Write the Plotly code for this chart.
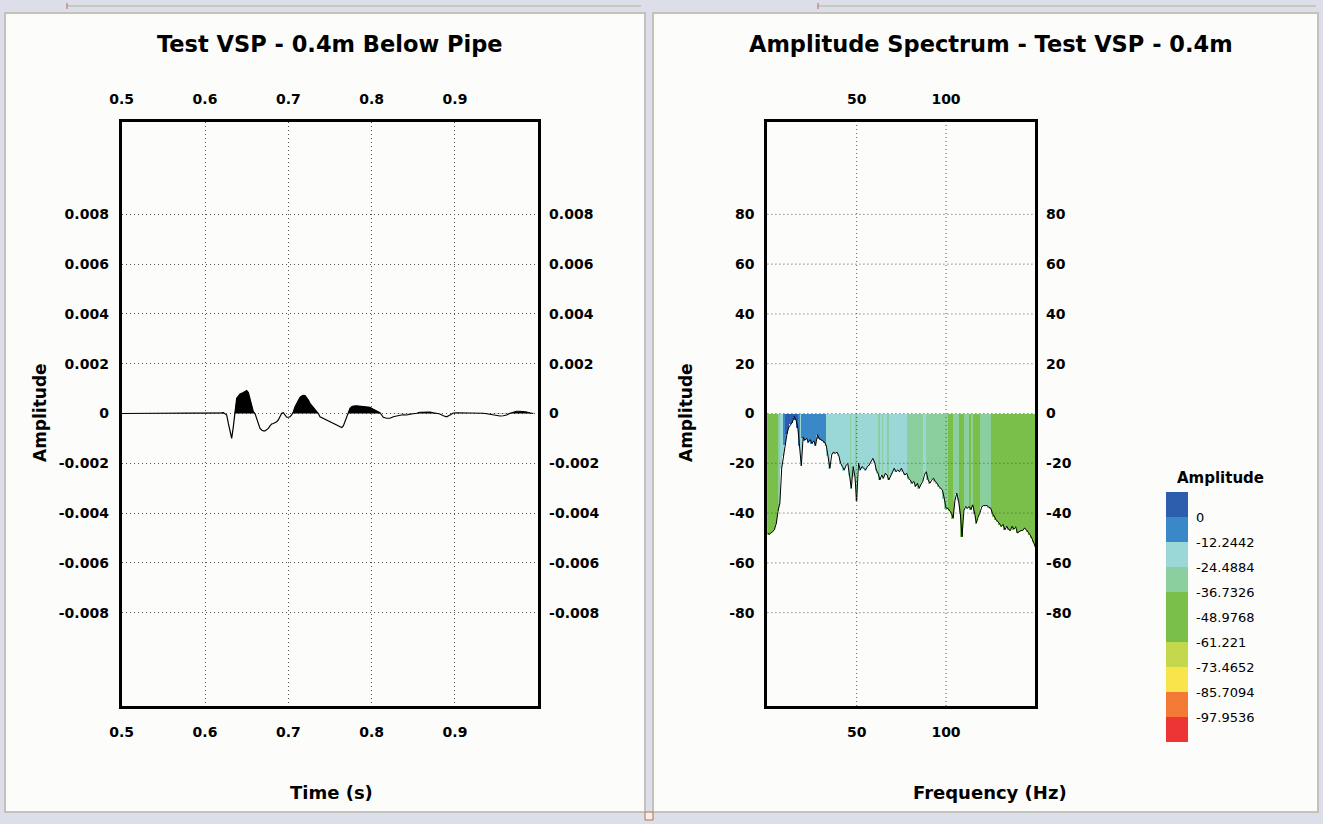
import plotly.graph_objects as go

# ---------------- data ----------------
wave_time = [
    0.500, 0.594, 0.618, 0.620, 0.622, 0.624, 0.626, 0.628, 0.630, 0.632,
    0.634, 0.636, 0.638, 0.640, 0.642, 0.646, 0.650, 0.652, 0.654, 0.656,
    0.658, 0.660, 0.662, 0.664, 0.666, 0.668, 0.670, 0.672, 0.674, 0.676,
    0.678, 0.680, 0.682, 0.686, 0.688, 0.690, 0.692, 0.694, 0.696, 0.698,
    0.700, 0.702, 0.704, 0.706, 0.708, 0.710, 0.712, 0.714, 0.716, 0.718,
    0.720, 0.722, 0.724, 0.726, 0.730, 0.734, 0.736, 0.738, 0.742, 0.746,
    0.750, 0.754, 0.758, 0.762, 0.764, 0.766, 0.768, 0.770, 0.772, 0.774,
    0.776, 0.778, 0.782, 0.786, 0.790, 0.794, 0.798, 0.802, 0.806, 0.810,
    0.812, 0.814, 0.818, 0.822, 0.826, 0.830, 0.834, 0.838, 0.842, 0.846,
    0.850, 0.854, 0.858, 0.862, 0.866, 0.870, 0.874, 0.878, 0.882, 0.886,
    0.890, 0.894, 0.898, 0.902, 0.906, 0.910, 0.914, 0.918, 0.922, 0.926,
    0.930, 0.934, 0.938, 0.942, 0.946, 0.950, 0.954, 0.958, 0.962, 0.966,
    0.970, 0.974, 0.978, 0.982, 0.986, 0.990, 0.994,
]
# amplitude in units of 1e-3
wave_amp_milli = [
    0.00, 0.00, 0.00, 0.03, 0.04, 0.00, -0.06, -0.40, -0.73, -1.00,
    -0.53, 0.14, 0.61, 0.70, 0.78, 0.84, 0.92, 0.84, 0.54, 0.27,
    0.07, 0.00, -0.19, -0.40, -0.60, -0.66, -0.70, -0.70, -0.66, -0.60,
    -0.50, -0.42, -0.40, -0.33, -0.26, -0.13, 0.01, 0.03, -0.06, -0.15,
    -0.15, -0.13, -0.06, 0.07, 0.27, 0.41, 0.54, 0.65, 0.70, 0.73,
    0.72, 0.65, 0.54, 0.41, 0.25, 0.07, 0.00, -0.13, -0.19, -0.26,
    -0.33, -0.40, -0.46, -0.53, -0.56, -0.50, -0.33, -0.13, 0.07, 0.21,
    0.27, 0.30, 0.31, 0.30, 0.30, 0.27, 0.25, 0.17, 0.11, 0.03,
    -0.06, -0.15, -0.19, -0.19, -0.13, -0.09, -0.07, -0.05, -0.06, -0.03,
    -0.02, 0.01, 0.05, 0.06, 0.07, 0.06, 0.03, 0.01, -0.02, -0.09,
    -0.13, -0.06, 0.02, 0.03, 0.03, 0.03, 0.02, 0.02, 0.03, 0.03,
    0.02, 0.01, -0.01, -0.03, -0.06, -0.09, -0.10, -0.09, -0.06, 0.01,
    0.06, 0.09, 0.09, 0.09, 0.06, 0.02, 0.01,
]

spec_freq = list(range(0, 151))
spec_db = [
    -48, -48.5, -48, -47.5, -46.5, -44, -39, -36, -22, -17,
    -12.5, -8, -5.5, -4.2, -3.5, -1.2, -2.5, -5.5, -13, -21,
    -9.5, -10.7, -10, -11.5, -10.5, -12, -11, -12.8, -8.5, -10,
    -10.5, -11, -11.5, -13, -17, -22, -16.6, -15.5, -16, -15.5,
    -17, -20, -21.3, -22.7, -21, -20, -25, -30, -21.3, -25.3,
    -35, -20, -22.7, -21.3, -22, -22.7, -21.3, -20.7, -19.4, -18,
    -19.5, -22.7, -24, -26.7, -24.7, -26, -24, -24.7, -26.7, -25.3,
    -24, -22, -23.4, -22.7, -23.4, -22, -23.4, -24.7, -24, -26,
    -26.7, -28, -27.3, -29.3, -28, -30, -28.5, -27.3, -24.5, -23.4,
    -26.7, -28, -26.7, -26, -27.3, -28, -29.3, -30, -30.7, -34,
    -38, -38, -39, -40, -42, -35, -32, -35, -40, -49.5,
    -39, -37.4, -38, -37.4, -38.5, -36.7, -40, -44, -41.5, -40,
    -37.5, -37, -37, -37, -37.6, -38, -40, -41.5, -42.6, -43.4,
    -44.5, -45.3, -44.6, -46.7, -45.3, -46.5, -47, -45.3, -46.5, -45.5,
    -48, -47.5, -47, -47, -46, -46.7, -47.5, -48.7, -50, -51.5,
    -53.5,
]

legend_levels = [0, -12.2442, -24.4884, -36.7326, -48.9768,
                 -61.221, -73.4652, -85.7094, -97.9536]
legend_labels = ["0", "-12.2442", "-24.4884", "-36.7326", "-48.9768",
                 "-61.221", "-73.4652", "-85.7094", "-97.9536"]
# band colours from bottom (most negative) to top
band_colors = ["#ee3535", "#f37a34", "#f8e44b", "#c3d84c", "#7bbf4b",
               "#7bbf4b", "#8ccf9f", "#9ad7d7", "#3b88c8", "#2d5ead"]

time_ticks = [0.5, 0.6, 0.7, 0.8, 0.9]
amp_ticks = [-0.008, -0.006, -0.004, -0.002, 0, 0.002, 0.004, 0.006, 0.008]
amp_tick_text = ["-0.008", "-0.006", "-0.004", "-0.002", "0",
                 "0.002", "0.004", "0.006", "0.008"]
freq_ticks = [50, 100]
db_ticks = [-80, -60, -40, -20, 0, 20, 40, 60, 80]

assert len(wave_time) == len(wave_amp_milli)
assert len(spec_freq) == len(spec_db)

# ---------------- derived ----------------
W, H = 1323, 824
wave_amp = [a * 1e-3 for a in wave_amp_milli]

# positive part with zero-crossing points for filled lobes
pos_t, pos_a = [], []
for i, (t, a) in enumerate(zip(wave_time, wave_amp)):
    if i > 0:
        t0, a0 = wave_time[i - 1], wave_amp[i - 1]
        if (a0 > 0 > a) or (a0 < 0 < a):
            tc = t0 + (t - t0) * (0 - a0) / (a - a0)
            pos_t.append(tc)
            pos_a.append(0.0)
    pos_t.append(t)
    pos_a.append(max(a, 0.0))

step = 12.2442
cmax = step
cmin = legend_levels[-1] - step


def display_level(v):
    # colour class of each spectrum bar, expressed as a legend band centre
    if v > -8.5:
        return step / 2
    if v > -14:
        return -step / 2
    if v > -25.5:
        return -1.5 * step
    if v > -38.2:
        return -2.5 * step
    return -3.5 * step


bar_levels = [display_level(v) for v in spec_db]

colorscale = []
n = len(band_colors)
for k, c in enumerate(band_colors):
    colorscale.append([k / n, c])
    colorscale.append([(k + 1) / n, c])


def px(x):
    return x / W


def py(y):
    return 1 - y / H


PANEL = "#fcfcfa"
OUTER = "#dcdfe9"
BORDER = "#c3c3bb"
GRID = "#555555"
TICKFONT = dict(family="DejaVu Sans", size=14, color="black", weight="bold")

xdom_l = [121.7 / W, 538.3 / W]
xdom_r = [767.4 / W, 1035.3 / W]
ydom = [1 - 706 / H, 1 - 121.5 / H]
yr_amp = [-0.01175, 0.01173]
yr_db = [-117.5, 117.3]

fig = go.Figure()

# left: waveform
fig.add_trace(go.Scatter(x=pos_t, y=pos_a, mode="lines", line=dict(width=0, color="black"),
                         fill="tozeroy", fillcolor="black", xaxis="x", yaxis="y",
                         showlegend=False, hoverinfo="skip"))
fig.add_trace(go.Scatter(x=wave_time, y=wave_amp, mode="lines",
                         line=dict(color="black", width=1.2), xaxis="x", yaxis="y",
                         showlegend=False))
fig.add_trace(go.Scatter(x=[None], y=[None], xaxis="x3", yaxis="y3", showlegend=False,
                         hoverinfo="skip"))

# right: spectrum
fig.add_trace(go.Bar(x=spec_freq, y=[-v for v in spec_db], base=spec_db, width=1.0,
                     marker=dict(color=bar_levels, coloraxis="coloraxis", line=dict(width=0)),
                     xaxis="x2", yaxis="y2", showlegend=False, hoverinfo="skip"))
fig.add_trace(go.Scatter(x=spec_freq, y=spec_db, mode="lines",
                         line=dict(color="black", width=1), xaxis="x2", yaxis="y2",
                         showlegend=False))
fig.add_trace(go.Scatter(x=[None], y=[None], xaxis="x4", yaxis="y4", showlegend=False,
                         hoverinfo="skip"))

base_x = dict(showline=True, linewidth=3, linecolor="black", mirror=True,
              ticks="outside", ticklen=11, tickcolor="rgba(0,0,0,0)",
              tickfont=TICKFONT, zeroline=False, fixedrange=True)
base_y = dict(showline=True, linewidth=3, linecolor="black", mirror=True,
              ticks="outside", ticklen=7, tickcolor="rgba(0,0,0,0)",
              tickfont=TICKFONT, zeroline=False, fixedrange=True)
over = dict(showline=False, showgrid=False, zeroline=False, ticks="outside",
            tickcolor="rgba(0,0,0,0)", tickfont=TICKFONT, fixedrange=True)

fig.update_layout(
    width=W, height=H, autosize=False,
    margin=dict(l=0, r=0, t=0, b=0, pad=0, autoexpand=False),
    paper_bgcolor=OUTER, plot_bgcolor=PANEL,
    bargap=0, showlegend=False,
    xaxis=dict(base_x, domain=xdom_l, range=[0.5, 1.0], anchor="y",
               tickvals=time_ticks, ticktext=[f"{v:g}" for v in time_ticks],
               showgrid=True, gridcolor=GRID, griddash="1px,3px", gridwidth=1),
    yaxis=dict(base_y, domain=ydom, range=yr_amp, anchor="x",
               tickvals=amp_ticks, ticktext=amp_tick_text,
               showgrid=True, gridcolor=GRID, griddash="1px,3px", gridwidth=1),
    xaxis3=dict(over, overlaying="x", side="top", anchor="y", range=[0.5, 1.0],
                ticklen=11, tickvals=time_ticks, ticktext=[f"{v:g}" for v in time_ticks]),
    yaxis3=dict(over, overlaying="y", side="right", anchor="x", range=yr_amp,
                ticklen=7, tickvals=amp_ticks, ticktext=amp_tick_text),
    xaxis2=dict(base_x, domain=xdom_r, range=[0, 150], anchor="y2",
                tickvals=freq_ticks, ticktext=[str(v) for v in freq_ticks], showgrid=False),
    yaxis2=dict(base_y, domain=ydom, range=yr_db, anchor="x2",
                tickvals=db_ticks, ticktext=[str(v) for v in db_ticks], showgrid=False),
    xaxis4=dict(over, overlaying="x2", side="top", anchor="y2", range=[0, 150],
                ticklen=11, tickvals=freq_ticks, ticktext=[str(v) for v in freq_ticks]),
    yaxis4=dict(over, overlaying="y2", side="right", anchor="x2", range=yr_db,
                ticklen=7, tickvals=db_ticks, ticktext=[str(v) for v in db_ticks]),
    coloraxis=dict(
        cmin=cmin, cmax=cmax, colorscale=colorscale, showscale=True,
        colorbar=dict(
            thickness=22, thicknessmode="pixels", len=250, lenmode="pixels",
            x=1166 / W, xanchor="left", y=1 - 617 / H, yanchor="middle",
            xpad=0, ypad=0, outlinewidth=0, borderwidth=0,
            tickvals=legend_levels, ticktext=legend_labels,
            ticks="outside", ticklen=6, tickcolor="rgba(0,0,0,0)",
            tickfont=dict(family="DejaVu Sans", size=13, color="black"),
        ),
    ),
)

# panels and frame decorations
shapes = [
    dict(type="rect", xref="paper", yref="paper", x0=px(5), x1=px(645), y0=py(812), y1=py(13),
         fillcolor=PANEL, line=dict(color=BORDER, width=2), layer="below"),
    dict(type="rect", xref="paper", yref="paper", x0=px(653), x1=px(1318), y0=py(812), y1=py(13),
         fillcolor=PANEL, line=dict(color=BORDER, width=2), layer="below"),
    dict(type="line", xref="paper", yref="paper", x0=px(67), x1=px(641), y0=py(6), y1=py(6),
         line=dict(color="#c8c8c0", width=2), layer="below"),
    dict(type="line", xref="paper", yref="paper", x0=px(818), x1=px(1316), y0=py(6), y1=py(6),
         line=dict(color="#c8c8c0", width=2), layer="below"),
    dict(type="line", xref="paper", yref="paper", x0=px(67), x1=px(67), y0=py(3), y1=py(9),
         line=dict(color="#b07050", width=1), layer="below"),
    dict(type="line", xref="paper", yref="paper", x0=px(818), x1=px(818), y0=py(3), y1=py(9),
         line=dict(color="#b07050", width=1), layer="below"),
    dict(type="rect", xref="paper", yref="paper", x0=px(645), x1=px(653), y0=py(820), y1=py(812),
         fillcolor="#f4efe8", line=dict(color="#b07050", width=1), layer="below"),
]
# dotted grid lines over the coloured spectrum, at the tick values
for fv in freq_ticks:
    shapes.append(dict(type="line", xref="x2", yref="y2 domain", x0=fv, x1=fv, y0=0, y1=1,
                       line=dict(color=GRID, width=1, dash="1px,3px"), layer="above"))
for dv in db_ticks:
    shapes.append(dict(type="line", xref="x2 domain", yref="y2", x0=0, x1=1, y0=dv, y1=dv,
                       line=dict(color=GRID, width=1, dash="1px,3px"), layer="above"))
fig.update_layout(shapes=shapes)

BOLD = dict(family="DejaVu Sans", color="black", weight="bold")
ann = [
    dict(text="Test VSP - 0.4m Below Pipe", x=px(330), y=py(44), font=dict(BOLD, size=22.5)),
    dict(text="Amplitude Spectrum - Test VSP - 0.4m", x=px(991), y=py(44), font=dict(BOLD, size=22.5)),
    dict(text="Time (s)", x=px(331), y=py(792), font=dict(BOLD, size=18)),
    dict(text="Frequency (Hz)", x=px(990), y=py(792), font=dict(BOLD, size=18)),
    dict(text="Amplitude", x=px(40), y=py(413), textangle=-90, font=dict(BOLD, size=17)),
    dict(text="Amplitude", x=px(686), y=py(413), textangle=-90, font=dict(BOLD, size=17)),
    dict(text="Amplitude", x=px(1220), y=py(478), font=dict(BOLD, size=15)),
]
for a in ann:
    a.update(xref="paper", yref="paper", showarrow=False, xanchor="center", yanchor="middle")
fig.update_layout(annotations=ann)

fig.write_html("out.html")
